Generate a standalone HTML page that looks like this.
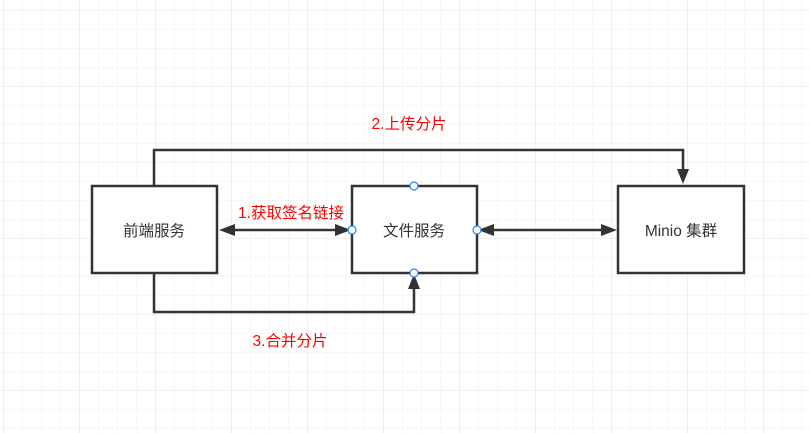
<!DOCTYPE html>
<html><head><meta charset="utf-8"><style>
html,body{margin:0;padding:0;background:#fff}
</style></head><body>
<svg width="809" height="433" xmlns="http://www.w3.org/2000/svg" style="display:block">
<defs>
<pattern id="g" x="3" y="10" width="19" height="19" patternUnits="userSpaceOnUse">
<path d="M0 0H19M0 0V19" stroke="#efefef" stroke-width="1" fill="none"/>
</pattern>
<pattern id="G" x="3" y="10" width="76" height="76" patternUnits="userSpaceOnUse">
<path d="M0 0H76M0 0V76" stroke="#e2e2e2" stroke-width="1" fill="none"/>
</pattern>
</defs>
<rect width="809" height="433" fill="url(#g)"/>
<rect width="809" height="433" fill="url(#G)"/>
<g stroke="#333" stroke-width="2.5" fill="#fff">
<rect x="92" y="186" width="125" height="87"/>
<rect x="352" y="186" width="125" height="87"/>
<rect x="618" y="186" width="126" height="87"/>
</g>
<g stroke="#333" stroke-width="2.5" fill="none">
<path d="M154 186V150H683V172"/>
<path d="M154 273V312H414V286"/>
<path d="M230 230H340"/>
<path d="M490 230H606"/>
</g>
<g fill="#333">
<polygon points="683,184 677,169 689,169"/>
<polygon points="414,274 408,289 420,289"/>
<polygon points="219,230 235,224 235,236"/>
<polygon points="351,230 335,224 335,236"/>
<polygon points="478,230 494,224 494,236"/>
<polygon points="617,230 601,224 601,236"/>
</g>
<g fill="#fff" stroke="#1e88ff" stroke-width="1.2">
<circle cx="414" cy="186" r="4"/>
<circle cx="414" cy="273" r="4"/>
<circle cx="352" cy="230" r="4"/>
<circle cx="477" cy="230" r="4"/>
</g>
<g font-family="Liberation Sans, Noto Sans CJK SC, sans-serif" font-size="15.5">
<text x="154" y="236" text-anchor="middle" fill="#333">前端服务</text>
<text x="414" y="236" text-anchor="middle" fill="#333">文件服务</text>
<text x="681" y="236" text-anchor="middle" fill="#333">Minio 集群</text>
<text x="291" y="218" text-anchor="middle" fill="#f00">1.获取签名链接</text>
<text x="409" y="129" text-anchor="middle" fill="#f00">2.上传分片</text>
<text x="290" y="346" text-anchor="middle" fill="#f00">3.合并分片</text>
</g>
</svg>
</body></html>
